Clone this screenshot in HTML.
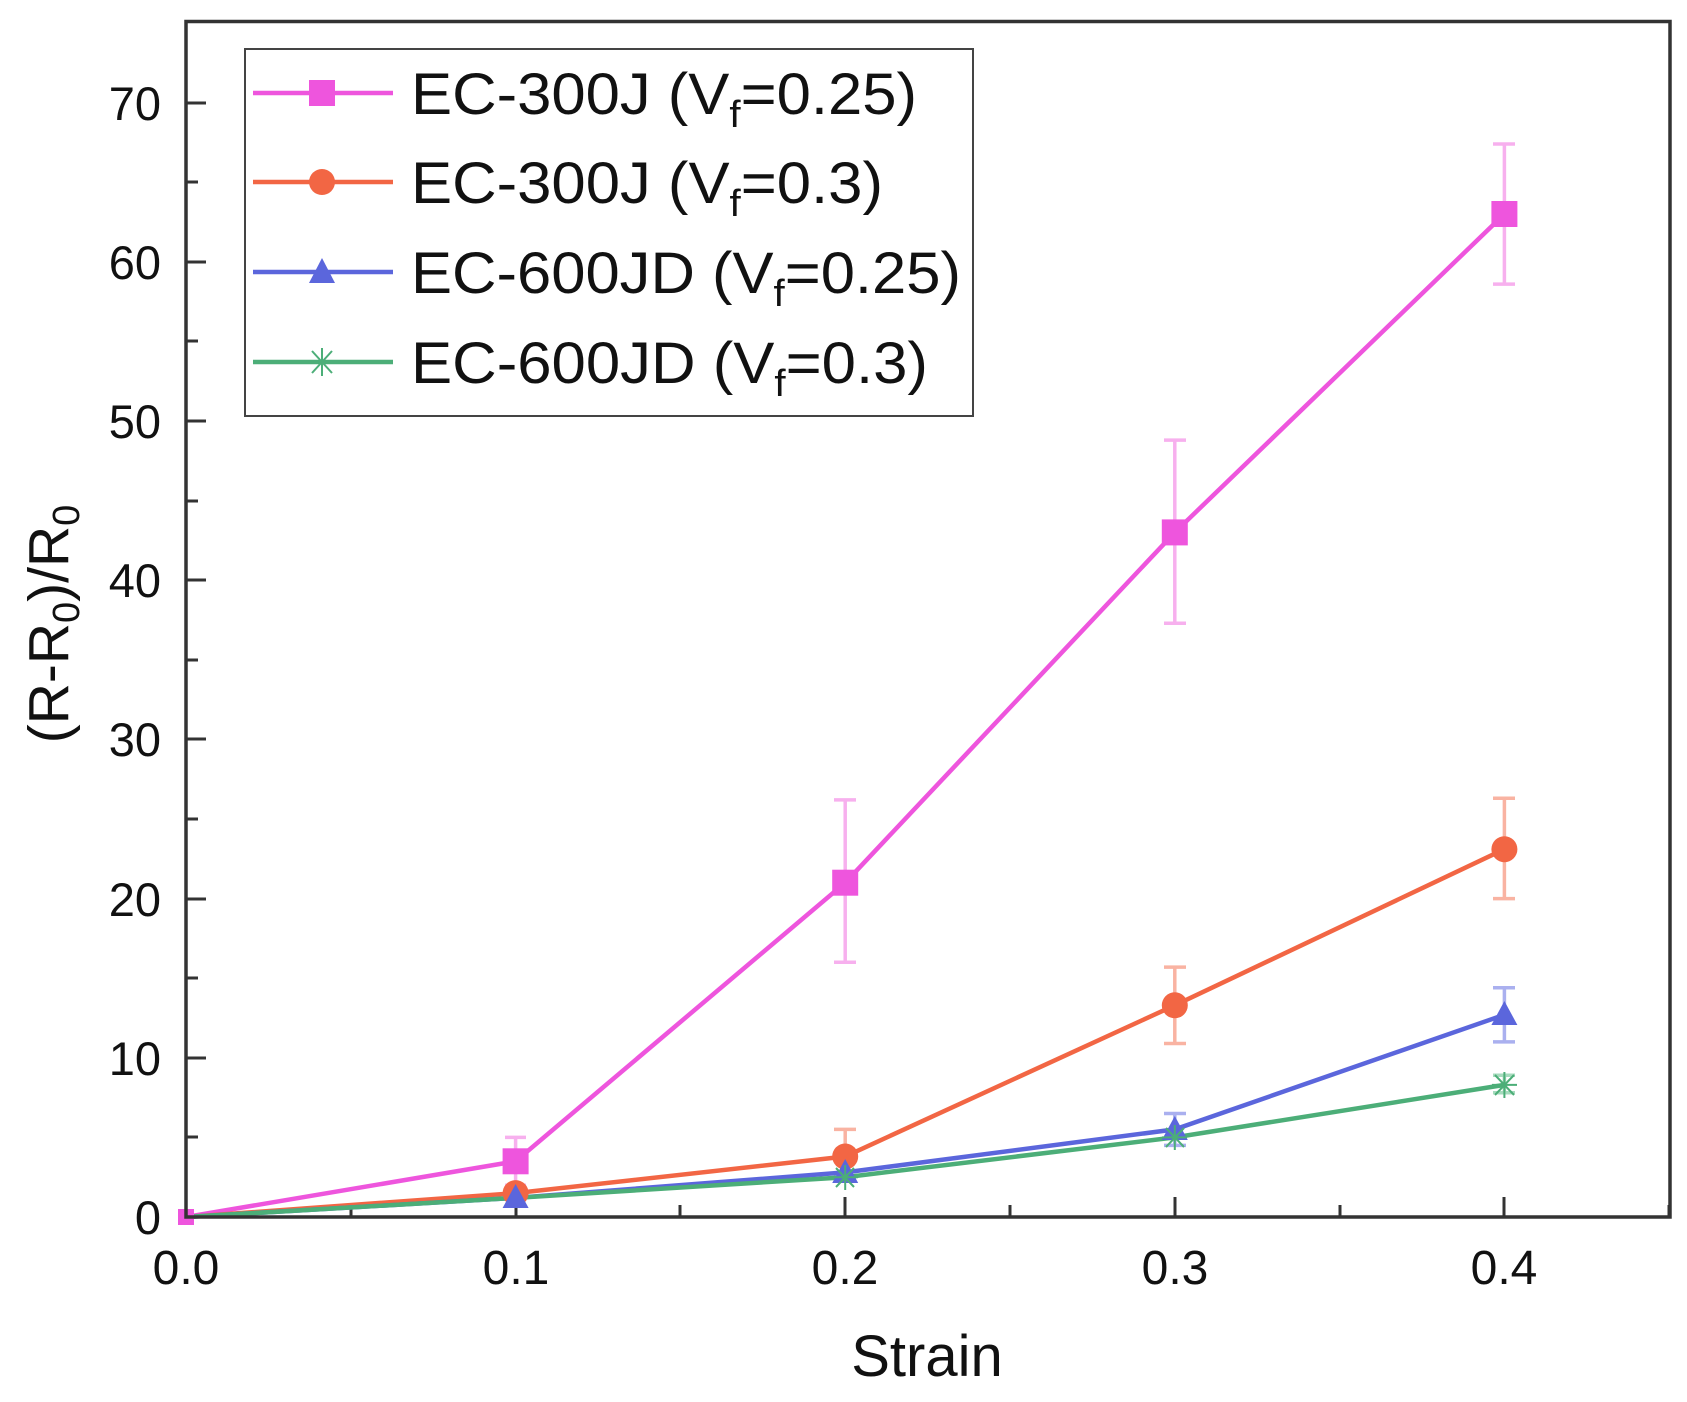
<!DOCTYPE html>
<html><head><meta charset="utf-8"><style>html,body{margin:0;padding:0;background:#fff}svg{display:block}</style></head>
<body>
<svg width="1687" height="1402" viewBox="0 0 1687 1402" xmlns="http://www.w3.org/2000/svg" font-family="Liberation Sans, Arial, sans-serif">
<rect width="1687" height="1402" fill="#fff"/>
<g stroke="#333" stroke-width="3">
<line x1="186" y1="1217" x2="206" y2="1217"/><line x1="186" y1="1058" x2="206" y2="1058"/><line x1="186" y1="899" x2="206" y2="899"/><line x1="186" y1="739" x2="206" y2="739"/><line x1="186" y1="580" x2="206" y2="580"/><line x1="186" y1="421" x2="206" y2="421"/><line x1="186" y1="262" x2="206" y2="262"/><line x1="186" y1="103" x2="206" y2="103"/>
<line x1="186" y1="1137" x2="198" y2="1137"/><line x1="186" y1="978" x2="198" y2="978"/><line x1="186" y1="819" x2="198" y2="819"/><line x1="186" y1="660" x2="198" y2="660"/><line x1="186" y1="501" x2="198" y2="501"/><line x1="186" y1="341" x2="198" y2="341"/><line x1="186" y1="182" x2="198" y2="182"/>
<line x1="516" y1="1217" x2="516" y2="1197"/><line x1="845" y1="1217" x2="845" y2="1197"/><line x1="1175" y1="1217" x2="1175" y2="1197"/><line x1="1504" y1="1217" x2="1504" y2="1197"/>
<line x1="351" y1="1217" x2="351" y2="1205"/><line x1="680" y1="1217" x2="680" y2="1205"/><line x1="1010" y1="1217" x2="1010" y2="1205"/><line x1="1340" y1="1217" x2="1340" y2="1205"/><line x1="1669" y1="1217" x2="1669" y2="1205"/>
</g>
<g stroke-width="3.5" fill="none">
<g stroke="#f7b0ee">
<path d="M515.6 1137.4V1185.2M505 1137.4h21M505 1185.2h21"/>
<path d="M845.2 799.9V962.3M834 799.9h22M834 962.3h22"/>
<path d="M1174.8 440.1V623.2M1164 440.1h22M1164 623.2h22"/>
<path d="M1504.4 144V284.1M1493 144h22M1493 284.1h22"/>
</g>
<g stroke="#f9b3a2">
<path d="M845.2 1129.4V1177.2M834 1129.4h22M834 1177.2h22"/>
<path d="M1174.8 967.1V1043.5M1164 967.1h22M1164 1043.5h22"/>
<path d="M1504.4 798.3V898.6M1493 798.3h22M1493 898.6h22"/>
</g>
<g stroke="#aab0ef">
<path d="M1174.8 1113.5V1145.4M1164 1113.5h22M1164 1145.4h22"/>
<path d="M1504.4 987.8V1041.9M1493 987.8h22M1493 1041.9h22"/>
</g>
<g stroke="#a6dbbd">
<path d="M1504.4 1075.3V1092.8M1493 1075.3h22M1493 1092.8h22"/>
</g>
</g>
<g fill="none" stroke-width="4.5">
<polyline stroke="#ee55dd" points="186,1217 515.6,1161.3 845.2,882.7 1174.8,532.4 1504.4,214"/>
<polyline stroke="#f26644" points="186,1217 515.6,1193.1 845.2,1156.5 1174.8,1005.3 1504.4,849.2"/>
<polyline stroke="#5b66dc" points="186,1217 515.6,1197.9 845.2,1172.4 1174.8,1129.4 1504.4,1014.8"/>
<polyline stroke="#4cae78" points="186,1217 515.6,1197.9 845.2,1177.2 1174.8,1137.4 1504.4,1084.9"/>
</g>
<g fill="#ee55dd">
<rect x="178" y="1209" width="16" height="16"/><rect x="502.6" y="1148.3" width="26" height="26"/><rect x="832.2" y="869.7" width="26" height="26"/><rect x="1161.8" y="519.4" width="26" height="26"/><rect x="1491.4" y="201" width="26" height="26"/>
</g>
<g fill="#f26644">
<circle cx="515.6" cy="1193.1" r="13"/><circle cx="845.2" cy="1156.5" r="13"/><circle cx="1174.8" cy="1005.3" r="13"/><circle cx="1504.4" cy="849.2" r="13"/>
</g>
<g fill="#5b66dc">
<path d="M515.6 1184l13 24h-26z"/><path d="M845.2 1159l13 24h-26z"/><path d="M1174.8 1116l13 24h-26z"/><path d="M1504.4 1001l13 24h-26z"/>
</g>
<g stroke="#4cae78" stroke-width="2">
<path d="M1492 1084.9h25M1504.4 1072v26M1495 1075l19 20M1514 1075l-19 20"/>
<path d="M1162 1137.4h25M1174.8 1125v25M1166 1128l18 19M1184 1128l-18 19"/>
<path d="M833 1177.2h25M845.2 1165v25M836 1168l18 19M854 1168l-18 19"/>
</g>
<rect x="186" y="21.5" width="1484" height="1195.5" fill="none" stroke="#333" stroke-width="3.5"/>
<g font-size="47" fill="#111" text-anchor="end">
<text x="161" y="1234">0</text><text x="161" y="1075">10</text><text x="161" y="916">20</text><text x="161" y="756">30</text><text x="161" y="597">40</text><text x="161" y="438">50</text><text x="161" y="279">60</text><text x="161" y="120">70</text>
</g>
<g font-size="48" fill="#111" text-anchor="middle">
<text x="186" y="1284">0.0</text><text x="516" y="1284">0.1</text><text x="845" y="1284">0.2</text><text x="1175" y="1284">0.3</text><text x="1504" y="1284">0.4</text>
</g>
<text x="927" y="1376" font-size="58" text-anchor="middle" fill="#111">Strain</text>
<text transform="translate(68,624) rotate(-90)" font-size="57" text-anchor="middle" fill="#111">(R-R<tspan font-size="38" dy="11">0</tspan><tspan dy="-11">)/R</tspan><tspan font-size="38" dy="11">0</tspan></text>
<rect x="245" y="49" width="728" height="367" fill="#fff" stroke="#444" stroke-width="2"/>
<g stroke-width="4.5">
<line x1="253" y1="93" x2="393" y2="93" stroke="#ee55dd"/><rect x="309" y="80" width="26" height="26" fill="#ee55dd"/>
<line x1="253" y1="182" x2="393" y2="182" stroke="#f26644"/><circle cx="322" cy="182" r="13" fill="#f26644"/>
<line x1="253" y1="272" x2="393" y2="272" stroke="#5b66dc"/><path d="M322 258l13 25h-26z" fill="#5b66dc"/>
<line x1="253" y1="362" x2="393" y2="362" stroke="#4cae78"/>
<path d="M309 362h26M322 348v28M312 351l20 22M332 351l-20 22" stroke="#4cae78" stroke-width="2"/>
</g>
<g font-size="58" fill="#111">
<text x="411" y="114" textLength="506" lengthAdjust="spacingAndGlyphs">EC-300J (V<tspan font-size="38" dy="13">f</tspan><tspan dy="-13">=0.25)</tspan></text>
<text x="411" y="203" textLength="472" lengthAdjust="spacingAndGlyphs">EC-300J (V<tspan font-size="38" dy="13">f</tspan><tspan dy="-13">=0.3)</tspan></text>
<text x="411" y="293" textLength="550" lengthAdjust="spacingAndGlyphs">EC-600JD (V<tspan font-size="38" dy="13">f</tspan><tspan dy="-13">=0.25)</tspan></text>
<text x="411" y="383" textLength="517" lengthAdjust="spacingAndGlyphs">EC-600JD (V<tspan font-size="38" dy="13">f</tspan><tspan dy="-13">=0.3)</tspan></text>
</g>
</svg>
</body></html>
